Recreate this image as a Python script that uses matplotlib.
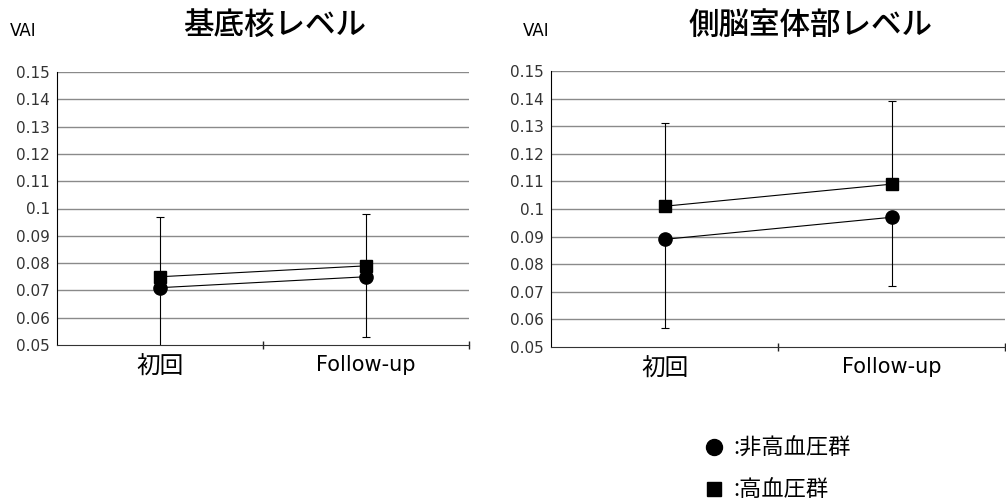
import matplotlib
matplotlib.use("Agg")
import matplotlib.pyplot as plt
from matplotlib.lines import Line2D

plt.rcParams['font.family'] = ['Noto Sans CJK JP', 'DejaVu Sans']
LATIN = ['DejaVu Sans', 'Noto Sans CJK JP']

categories = ["初回", "Follow-up"]
yticks = [0.05, 0.06, 0.07, 0.08, 0.09, 0.1, 0.11, 0.12, 0.13, 0.14, 0.15]
ytick_labels = ["0.05", "0.06", "0.07", "0.08", "0.09", "0.1", "0.11", "0.12", "0.13", "0.14", "0.15"]

# 基底核レベル
bg_normal = [0.071, 0.075]
bg_normal_err_low = [0.028, 0.022]
bg_hyper = [0.075, 0.079]
bg_hyper_err_up = [0.022, 0.019]

# 側脳室体部レベル
lv_normal = [0.089, 0.097]
lv_normal_err_low = [0.032, 0.025]
lv_hyper = [0.101, 0.109]
lv_hyper_err_up = [0.030, 0.030]

titles = ["基底核レベル", "側脳室体部レベル"]
legend_labels = [":非高血圧群", ":高血圧群"]

fig = plt.figure(figsize=(10.06, 5.0), dpi=100)
W, H = 1006, 500
ax_boxes = [(57, 72, 469, 345), (551, 71, 1005, 347)]
panels = [(bg_normal, bg_normal_err_low, bg_hyper, bg_hyper_err_up),
          (lv_normal, lv_normal_err_low, lv_hyper, lv_hyper_err_up)]
title_x = [275, 811]
vai_x = [10, 523]

xpos = [0.5, 1.5]
for i, (box, data) in enumerate(zip(ax_boxes, panels)):
    l, t, r, b = box
    ax = fig.add_axes([l / W, 1 - b / H, (r - l) / W, (b - t) / H])
    n, nlow, h, hup = data
    ax.set_xlim(0, 2)
    ax.set_ylim(0.05, 0.15)
    for y in yticks[1:]:
        ax.axhline(y, color='#8a8a8a', lw=1.0, zorder=0)
    ax.errorbar(xpos, h, yerr=[[0, 0], hup], fmt='none', ecolor='black',
                elinewidth=0.8, capsize=3, capthick=0.8, zorder=2)
    ax.errorbar(xpos, n, yerr=[nlow, [0, 0]], fmt='none', ecolor='black',
                elinewidth=0.8, capsize=3, capthick=0.8, zorder=2)
    ax.plot(xpos, h, color='black', lw=0.8, marker='s', markersize=8.5, zorder=3)
    ax.plot(xpos, n, color='black', lw=0.8, marker='o', markersize=9.5, zorder=3)
    ax.set_yticks(yticks)
    ax.set_yticklabels(ytick_labels, fontsize=11, color='#333333', family=LATIN)
    ax.tick_params(axis='y', length=0, pad=5)
    ax.set_xticks([1, 2])
    ax.set_xticklabels([])
    ax.tick_params(axis='x', direction='inout', length=6, width=1, color='#222222')
    ax.text(xpos[0], -0.04, categories[0], transform=ax.get_xaxis_transform(),
            ha='center', va='top', fontsize=17)
    ax.text(xpos[1], -0.035, categories[1], transform=ax.get_xaxis_transform(),
            ha='center', va='top', fontsize=15, family=LATIN)
    for s in ['top', 'right']:
        ax.spines[s].set_visible(False)
    ax.spines['left'].set_color('black')
    ax.spines['bottom'].set_color('#333333')
    fig.text(title_x[i] / W, 1 - 25 / H, titles[i], ha='center', va='center',
             fontsize=22, fontweight='medium')
    fig.text(vai_x[i] / W, 1 - 31 / H, "VAI", ha='left', va='center',
             fontsize=12, family=LATIN)

fig.add_artist(Line2D([714 / W], [1 - 447 / H], marker='o', markersize=11.5,
                      color='black', linestyle='none'))
fig.add_artist(Line2D([714 / W], [1 - 489 / H], marker='s', markersize=10.5,
                      color='black', linestyle='none'))
fig.text(733 / W, 1 - 448 / H, legend_labels[0], ha='left', va='center', fontsize=16)
fig.text(733 / W, 1 - 490 / H, legend_labels[1], ha='left', va='center', fontsize=16)

fig.savefig("out.png", dpi=100, facecolor='white')
